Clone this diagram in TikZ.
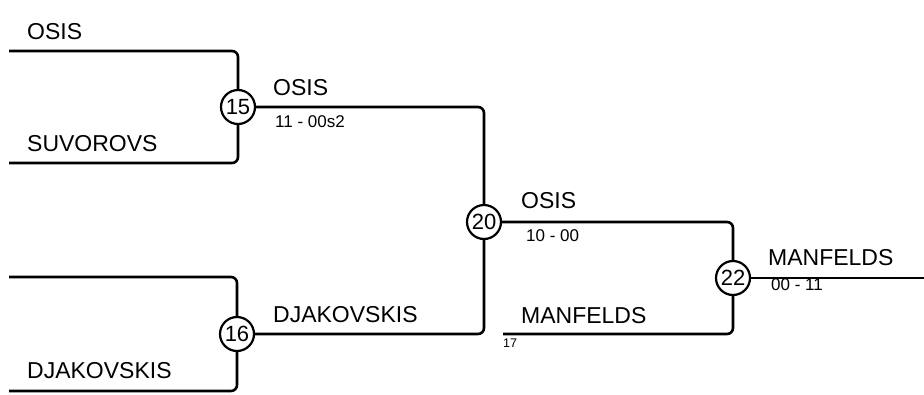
\documentclass[tikz,border=0pt]{standalone}
\usepackage{fontspec}
\setmainfont{Liberation Sans}
\begin{document}
\begin{tikzpicture}[x=1pt,y=-1pt,
  wire/.style={line width=2.6pt, rounded corners=6pt},
  match/.style={circle, draw, line width=2.2pt, minimum size=34pt, inner sep=0pt, font=\fontsize{22}{22}\selectfont},
  team/.style={anchor=base west, inner sep=0pt, font=\fontsize{23}{23}\selectfont},
  score/.style={anchor=base west, inner sep=0pt, font=\fontsize{17}{17}\selectfont},
  tiny/.style={anchor=base west, inner sep=0pt, font=\fontsize{12.5}{12.5}\selectfont}]
\useasboundingbox (0,0) rectangle (924,394);
% match circles
\node[match] (m15) at (238,107) {15};
\node[match] (m16) at (237,334) {16};
\node[match] (m20) at (484,222) {20};
\node[match] (m22) at (733,278) {22};
% free ends
\coordinate (a1) at (9,51);
\coordinate (a2) at (9,163);
\coordinate (b1) at (9,277);
\coordinate (b2) at (9,391);
\coordinate (c17) at (503,334);
\coordinate (fin) at (924,278);
% connectors
\draw[wire] (a1) -| (m15);
\draw[wire] (a2) -| (m15);
\draw[wire] (b1) -| (m16);
\draw[wire] (b2) -| (m16);
\draw[wire] (m15) -| (m20);
\draw[wire] (m16) -| (m20);
\draw[wire] (m20) -| (m22);
\draw[wire] (c17) -| (m22);
\draw[wire] (m22) -- (fin);
% labels
\node[team] (t1) at (27,39) {OSIS};
\node[team] (t2) at (27,151) {SUVOROVS};
\node[team] (t3) at (27,378) {DJAKOVSKIS};
\node[team] (w15) at (273,95) {OSIS};
\node[score] (s15) at (275,127) {11 - 00s2};
\node[team] (w16) at (273,322) {DJAKOVSKIS};
\node[team] (w20) at (521,208) {OSIS};
\node[score] (s20) at (526,241) {10 - 00};
\node[team] (t17) at (521,323) {MANFELDS};
\node[tiny] (n17) at (503,347) {17};
\node[team] (w22) at (768,265) {MANFELDS};
\node[score] (s22) at (771,290) {00 - 11};
\end{tikzpicture}
\end{document}
